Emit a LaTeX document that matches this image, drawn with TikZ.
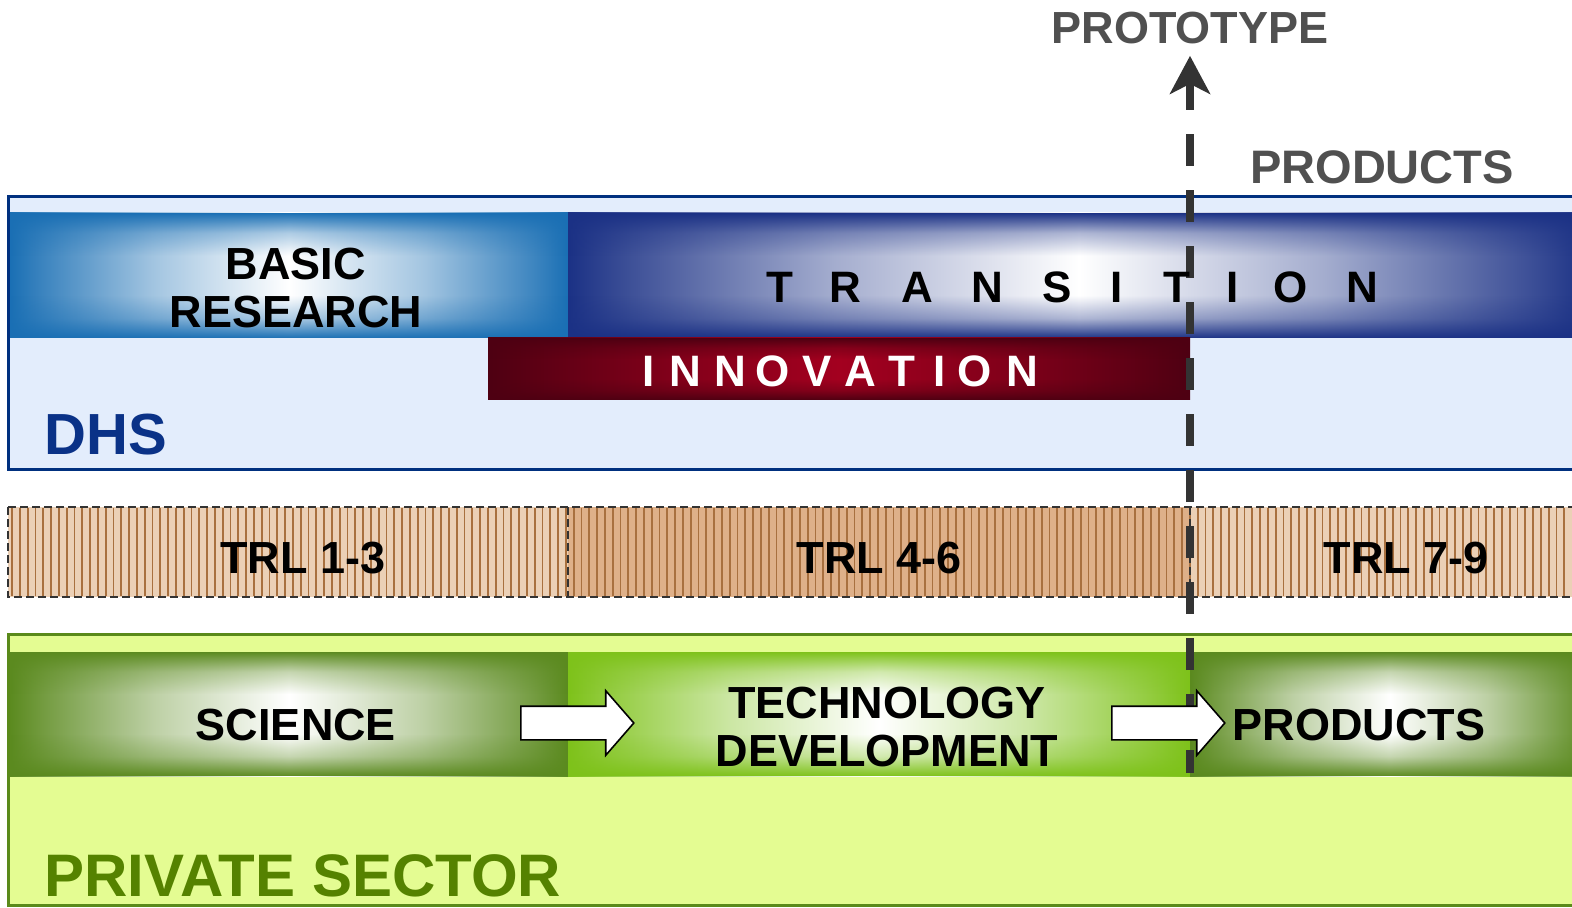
\documentclass[tikz,border=0pt]{standalone}
\usepackage{fontspec}
\setmainfont{Liberation Sans}
\usepackage{xcolor}
\usepackage{tikz}
\usetikzlibrary{shapes.arrows, arrows.meta, positioning, fadings}

\definecolor{dhsblue}{HTML}{00307F}
\definecolor{dhsfill}{HTML}{E3EDFC}
\definecolor{dhstext}{HTML}{0A3287}
\definecolor{basicblue}{HTML}{1A6FB4}
\definecolor{transnavy}{HTML}{1B3185}
\definecolor{innodark}{HTML}{4E0012}
\definecolor{innored}{HTML}{A3001F}
\definecolor{trltan}{HTML}{EBD0B6}
\definecolor{trldark}{HTML}{DEB089}
\definecolor{trlline}{HTML}{A8703F}
\definecolor{privfill}{HTML}{E4FC92}
\definecolor{privgreen}{HTML}{5A8A1A}
\definecolor{privtext}{HTML}{558200}
\definecolor{sciencegreen}{HTML}{5B8A1F}
\definecolor{techgreen}{HTML}{7EC21A}
\definecolor{labelgray}{HTML}{505050}
\definecolor{dashgray}{HTML}{333333}

\colorlet{bandc}{blue}
\colorlet{bandmid}{white}
\pgfdeclarehorizontalshading[bandc,bandmid]{pillow}{100bp}{color(0bp)=(bandc); color(25bp)=(bandc); color(28bp)=(bandc!85!bandmid); color(38bp)=(bandc!40!bandmid); color(50bp)=(bandmid); color(62bp)=(bandc!40!bandmid); color(72bp)=(bandc!85!bandmid); color(75bp)=(bandc); color(100bp)=(bandc)}
\pgfdeclareverticalshading{pillowfade}{100bp}{color(0bp)=(white); color(25bp)=(white); color(33bp)=(black!65); color(42bp)=(black); color(58bp)=(black); color(67bp)=(black!65); color(75bp)=(white); color(100bp)=(white)}
\pgfdeclarefading{pillow edge}{\pgfuseshading{pillowfade}}

\tikzset{band color/.code={\colorlet{bandc}{#1}}, band mid/.code={\colorlet{bandmid}{#1}}}
\tikzstyle{band} = [band color=#1, band mid=white, shade, shading=pillow, postaction={fill=bandc, path fading=pillow edge}]
\tikzstyle{dhsbox} = [draw=dhsblue, fill=dhsfill, line width=1.5pt]
\tikzstyle{privbox} = [draw=privgreen, fill=privfill, line width=1.5pt]
\tikzstyle{trlborder} = [draw=dashgray, line width=0.6pt, dash pattern=on 4pt off 2pt]
\tikzstyle{stripe} = [draw=trlline, line width=0.9pt]
\tikzstyle{bandlabel} = [font=\bfseries\fontsize{22.5}{24}\selectfont, inner sep=0pt, align=center, anchor=base]
\tikzstyle{spaced} = [font=\bfseries\fontsize{22}{24}\selectfont, inner sep=0pt, anchor=base]
\tikzstyle{sidetitle} = [font=\bfseries\fontsize{29}{31}\selectfont, inner sep=0pt, anchor=base west]
\tikzstyle{blockarrow} = [single arrow, draw=black, fill=white, line width=0.8pt, minimum height=56.5pt, inner sep=8pt, single arrow head extend=7.75pt, single arrow tip angle=98]
\tikzstyle{protoline} = [draw=dashgray, line width=4pt, dash pattern=on 16pt off 12pt, dash phase=4.5pt, -{Stealth[length=19pt, width=20pt, inset=5pt]}, shorten >=5.5pt]

\begin{document}
\begin{tikzpicture}[x=0.5pt, y=-0.5pt]
\clip (0,0) rectangle (1572,908);

% DHS
\draw[dhsbox] (8,197) rectangle (1590,469);
\path[band=basicblue] (10,213) rectangle (568,338);
\path[band=transnavy] (568,213) rectangle (1590,338);
\path[band=innodark, band mid=innored] (488,338) rectangle (1190,400);

% TRL
\fill[trltan] (8,507) rectangle (568,597);
\fill[trldark] (568,507) rectangle (1190,597);
\fill[trltan] (1190,507) rectangle (1590,597);
\foreach \x in {12,19.8,...,1572}
  \draw[stripe] (\x,508) -- (\x,596);
\draw[trlborder] (8,507) rectangle (1590,597);
\draw[trlborder] (568,507) -- (568,597);
\draw[trlborder] (1190,507) -- (1190,597);

% Private sector
\draw[privbox] (8,634) rectangle (1590,905);
\path[band=sciencegreen] (10,652) rectangle (568,776);
\path[band=techgreen] (568,652) rectangle (1190,776);
\path[band=sciencegreen] (1190,652) rectangle (1590,776);

% Prototype marker
\node[bandlabel, text=labelgray] (proto) at (1190,44) {PROTOTYPE};
\node[bandlabel, text=labelgray, font=\bfseries\fontsize{23.5}{25}\selectfont] (prodtop) at (1382,184) {PRODUCTS};
\coordinate (protofoot) at (1190,773);
\draw[protoline] (protofoot) -- (proto.south);

% Flow arrows
\node[blockarrow] (arr1) at (570,723) {};
\node[blockarrow] (arr2) at (1161,723) {};

% Labels
\node[bandlabel] (basic) at (296,328) {BASIC\\RESEARCH};
\foreach \c/\x [count=\i] in {T/780,R/845,A/917,N/987,S/1057,I/1117,T/1177,I/1233,O/1291,N/1362}
  \node[spaced] (trans\i) at (\x,303) {\c};
\foreach \c/\x [count=\i] in {I/649,N/685,N/730,O/773,V/817,A/860,T/902,I/940,O/975,N/1022}
  \node[spaced, text=white] (inno\i) at (\x,387) {\c};
\node[sidetitle, text=dhstext] (dhs) at (44,455) {DHS};
\node[bandlabel] (trl13) at (303,573) {TRL 1-3};
\node[bandlabel] (trl46) at (879,573) {TRL 4-6};
\node[bandlabel] (trl79) at (1406,573) {TRL 7-9};
\node[bandlabel] (science) at (296,740) {SCIENCE};
\node[bandlabel] (techdev) at (887,766) {TECHNOLOGY\\DEVELOPMENT};
\node[bandlabel] (products) at (1359,740) {PRODUCTS};
\node[sidetitle, text=privtext, font=\bfseries\fontsize{30}{32}\selectfont] (private) at (44,896) {PRIVATE SECTOR};
\end{tikzpicture}
\end{document}
